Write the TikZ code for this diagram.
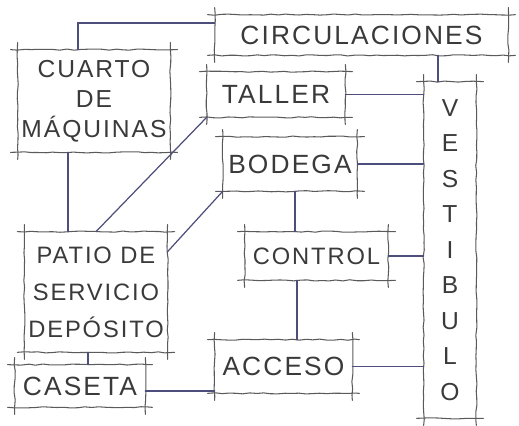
\documentclass[tikz,border=0pt]{standalone}
\usepackage{fontspec}
\usetikzlibrary{decorations.pathmorphing}
\newfontfamily\handfont[LetterSpace=8]{Liberation Sans}
\definecolor{pencil}{HTML}{5A5A5A}
\definecolor{inkblue}{HTML}{4E4E7C}
\definecolor{lettering}{HTML}{3A3A3A}

\begin{document}
\begin{tikzpicture}[line cap=round,
  wob/.style={draw=pencil,line width=0.6pt,decorate,decoration={random steps,segment length=4pt,amplitude=0.35pt}},
  room/.style={inner sep=2pt,text=lettering,align=center,font=\handfont\fontsize{15}{17}\selectfont,
    append after command={
      ([xshift=-4pt]\tikzlastnode.north west) edge[wob] ([xshift=4pt]\tikzlastnode.north east)
      ([xshift=-4pt]\tikzlastnode.south west) edge[wob] ([xshift=4pt]\tikzlastnode.south east)
      ([yshift=4pt]\tikzlastnode.north west) edge[wob] ([yshift=-4pt]\tikzlastnode.south west)
      ([yshift=4pt]\tikzlastnode.north east) edge[wob] ([yshift=-4pt]\tikzlastnode.south east)}},
  link/.style={draw=inkblue,line width=0.7pt}]
\useasboundingbox (0,0) rectangle (10.38,8.52);
\node[room,minimum width=5.86cm,minimum height=0.8cm] (circ) at (7.23,7.82) {CIRCULACIONES};
\node[room,minimum width=3.04cm,minimum height=2.04cm,font=\handfont\fontsize{14}{17}\selectfont] (cuarto) at (1.88,6.50) {CUARTO\\DE\\MÁQUINAS};
\node[room,minimum width=2.76cm,minimum height=0.9cm] (taller) at (5.52,6.63) {TALLER};
\node[room,minimum width=2.68cm,minimum height=1.08cm] (bodega) at (5.80,5.24) {BODEGA};
\node[room,minimum width=1.04cm,minimum height=6.72cm,font=\handfont\fontsize{14}{20.2}\selectfont] (vest) at (9.0,3.52) {V\\E\\S\\T\\I\\B\\U\\L\\O};
\node[room,minimum width=2.86cm,minimum height=0.96cm,font=\handfont\fontsize{13.5}{17}\selectfont] (control) at (6.33,3.40) {CONTROL};
\node[room,minimum width=2.74cm,minimum height=1.06cm] (acceso) at (5.67,1.19) {ACCESO};
\node[room,minimum width=2.84cm,minimum height=2.4cm,font=\handfont\fontsize{13.5}{21}\selectfont] (patio) at (1.92,2.68) {PATIO DE\\SERVICIO\\DEPÓSITO};
\node[room,minimum width=2.6cm,minimum height=0.84cm] (caseta) at (1.60,0.80) {CASETA};
\draw[link] ([xshift=-0.32cm]cuarto.north) |- ([yshift=0.24cm]circ.west);
\draw[link] ([xshift=-0.24cm]vest.north) -- ([xshift=-0.24cm]vest.north |- circ.south);
\draw[link] (taller.east) -- (taller.east -| vest.west);
\draw[link] (bodega.east) -- (bodega.east -| vest.west);
\draw[link] (control.east) -- (control.east -| vest.west);
\draw[link] (acceso.east) -- (acceso.east -| vest.west);
\draw[link] ([xshift=0.1cm]bodega.south) -- ([xshift=0.1cm]bodega.south |- control.north);
\draw[link] ([xshift=0.27cm]acceso.north) -- ([xshift=0.27cm]acceso.north |- control.south);
\draw[link] ([xshift=-0.52cm]cuarto.south) -- ([xshift=-0.52cm]cuarto.south |- patio.north);
\draw[link] (taller.south west) -- (patio.north);
\draw[link] (bodega.south west) -- ([yshift=-0.4cm]patio.north east);
\draw[link] ([xshift=-0.16cm]patio.south) -- ([xshift=-0.16cm]patio.south |- caseta.north);
\draw[link] ([yshift=-0.1cm]caseta.east) -- ([yshift=-0.1cm]caseta.east -| acceso.west);
\end{tikzpicture}
\end{document}
